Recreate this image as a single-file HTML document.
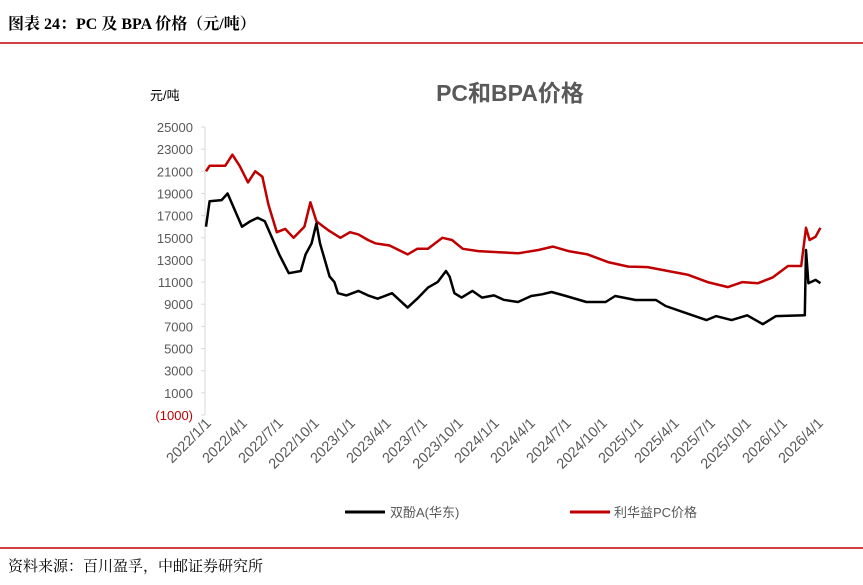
<!DOCTYPE html>
<html><head><meta charset="utf-8">
<style>
body{margin:0;width:863px;height:580px;background:#fff;overflow:hidden;font-family:"Liberation Sans","Noto Sans CJK SC",sans-serif}
</style></head><body>
<svg width="863" height="580" xmlns="http://www.w3.org/2000/svg" id="chart">
<text x="8" y="29" font-family="'Liberation Serif','Noto Serif CJK SC',serif" font-weight="bold" font-size="16" fill="#000">图表 24：PC 及 BPA 价格（元/吨）</text>
<line x1="0" y1="43" x2="863" y2="43" stroke="#c00000" stroke-width="1.5"/>
<text x="510" y="101" text-anchor="middle" font-weight="bold" font-size="23" fill="#595959">PC和BPA价格</text>
<text x="150" y="100" font-size="13" fill="#000">元/吨</text>
<line x1="205" y1="127" x2="205" y2="415" stroke="#d9d9d9" stroke-width="1"/>
<g id="yticks"></g><g id="xticks"></g><g id="series"></g>
<g>
<line x1="345" y1="512" x2="385" y2="512" stroke="#000" stroke-width="3"/>
<text x="390" y="517" font-size="13" fill="#595959">双酚A(华东)</text>
<line x1="570" y1="512" x2="610" y2="512" stroke="#c00000" stroke-width="3"/>
<text x="614" y="517" font-size="13" fill="#595959">利华益PC价格</text>
</g>
<line x1="0" y1="548" x2="863" y2="548" stroke="#c00000" stroke-width="1.5"/>
<text x="8" y="571" font-family="'Liberation Serif','Noto Serif CJK SC',serif" font-size="15" fill="#000">资料来源：百川盈孚，中邮证券研究所</text>
</svg>
<script>
const yTicks=[25000,23000,21000,19000,17000,15000,13000,11000,9000,7000,5000,3000,1000,-1000];
const xLabels=["2022/1/1","2022/4/1","2022/7/1","2022/10/1","2023/1/1","2023/4/1","2023/7/1","2023/10/1","2024/1/1","2024/4/1","2024/7/1","2024/10/1","2025/1/1","2025/4/1","2025/7/1","2025/10/1","2026/1/1","2026/4/1"];
const bpaMonths=[0,0.3,1.3,1.8,2.4,3,3.7,4.3,4.9,5.5,6.1,6.9,7.9,8.3,8.8,9.2,9.5,9.9,10.3,10.7,11.0,11.7,12.7,13.5,14.3,15.5,16.8,17.6,18.5,19.3,20.0,20.3,20.7,21.3,22.2,23.0,24.0,24.8,26.0,27.1,28.0,28.8,30.0,31.7,33.3,34.1,35.8,37.5,38.3,40.0,41.7,42.5,43.8,45.1,46.4,47.5,49.9,50.0,50.2,50.8,51.2];
const bpaValues=[16000,18300,18400,19000,17500,16000,16500,16800,16500,15000,13500,11800,12000,13500,14500,16300,14500,13000,11500,11000,10000,9800,10200,9800,9500,10000,8700,9500,10500,11000,12000,11500,10000,9600,10200,9600,9800,9400,9200,9740,9900,10100,9740,9200,9200,9740,9380,9380,8840,8200,7570,7930,7570,8000,7200,7930,8000,13900,10900,11200,10900];
const pcMonths=[0,0.3,1.6,2.2,2.8,3.5,4.1,4.7,5.2,5.9,6.6,7.3,8.2,8.7,9.2,9.8,10.3,11.2,12.0,12.7,13.5,14.1,15.3,16.8,17.6,18.5,19.7,20.5,21.4,22.7,24.4,26.0,27.7,28.9,30.2,31.8,33.5,35.2,36.8,38.5,40.2,41.8,43.5,44.7,46.0,47.2,48.5,49.6,50.0,50.3,50.8,51.2];
const pcValues=[21000,21500,21500,22500,21500,20000,21000,20500,18000,15500,15800,15000,16000,18200,16500,16000,15600,15000,15500,15300,14800,14500,14300,13500,14000,14000,15000,14800,14000,13800,13700,13600,13900,14200,13800,13500,12800,12400,12350,12000,11650,11000,10550,11000,10900,11400,12450,12450,15900,14800,15100,15900];
const NS="http://www.w3.org/2000/svg";
const Y0=127,Y1=415,X0=206,X1=818,MAXM=51;
const yScale=v=>Y0+(25000-v)/26000*(Y1-Y0);
const xScale=m=>X0+m/MAXM*(X1-X0);
const yg=document.getElementById('yticks'),xg=document.getElementById('xticks'),sg=document.getElementById('series');
yTicks.forEach(v=>{
  const t=document.createElementNS(NS,'text');
  t.setAttribute('x',193);t.setAttribute('y',yScale(v)+5);t.setAttribute('text-anchor','end');
  t.setAttribute('font-size','13');t.setAttribute('fill',v<0?'#c00000':'#595959');
  t.textContent=v<0?'('+(-v)+')':String(v);
  
  
  yg.appendChild(t);
  const l=document.createElementNS(NS,'line');
  l.setAttribute('x1',201);l.setAttribute('x2',205);l.setAttribute('y1',yScale(v));l.setAttribute('y2',yScale(v));l.setAttribute('stroke','#d9d9d9');
  
  
  yg.appendChild(l);
});
xLabels.forEach((s,i)=>{
  const x=xScale(i*3);
  const t=document.createElementNS(NS,'text');
  t.setAttribute('transform','translate('+(x+6)+',424) rotate(-45)');
  t.setAttribute('text-anchor','end');t.setAttribute('font-size','14.5');t.setAttribute('fill','#595959');
  t.textContent=s;
  
  
  xg.appendChild(t);
});
function line(ms,vs,color,name){
  const p=document.createElementNS(NS,'polyline');
  p.setAttribute('points',ms.map((m,i)=>xScale(m).toFixed(1)+','+yScale(vs[i]).toFixed(1)).join(' '));
  p.setAttribute('fill','none');p.setAttribute('stroke',color);p.setAttribute('stroke-width','2.5');p.setAttribute('stroke-linejoin','round');
  
  
  sg.appendChild(p);
}
line(pcMonths,pcValues,'#c00000','pc-price-line');
line(bpaMonths,bpaValues,'#000','bpa-price-line');
</script>
</body></html>
